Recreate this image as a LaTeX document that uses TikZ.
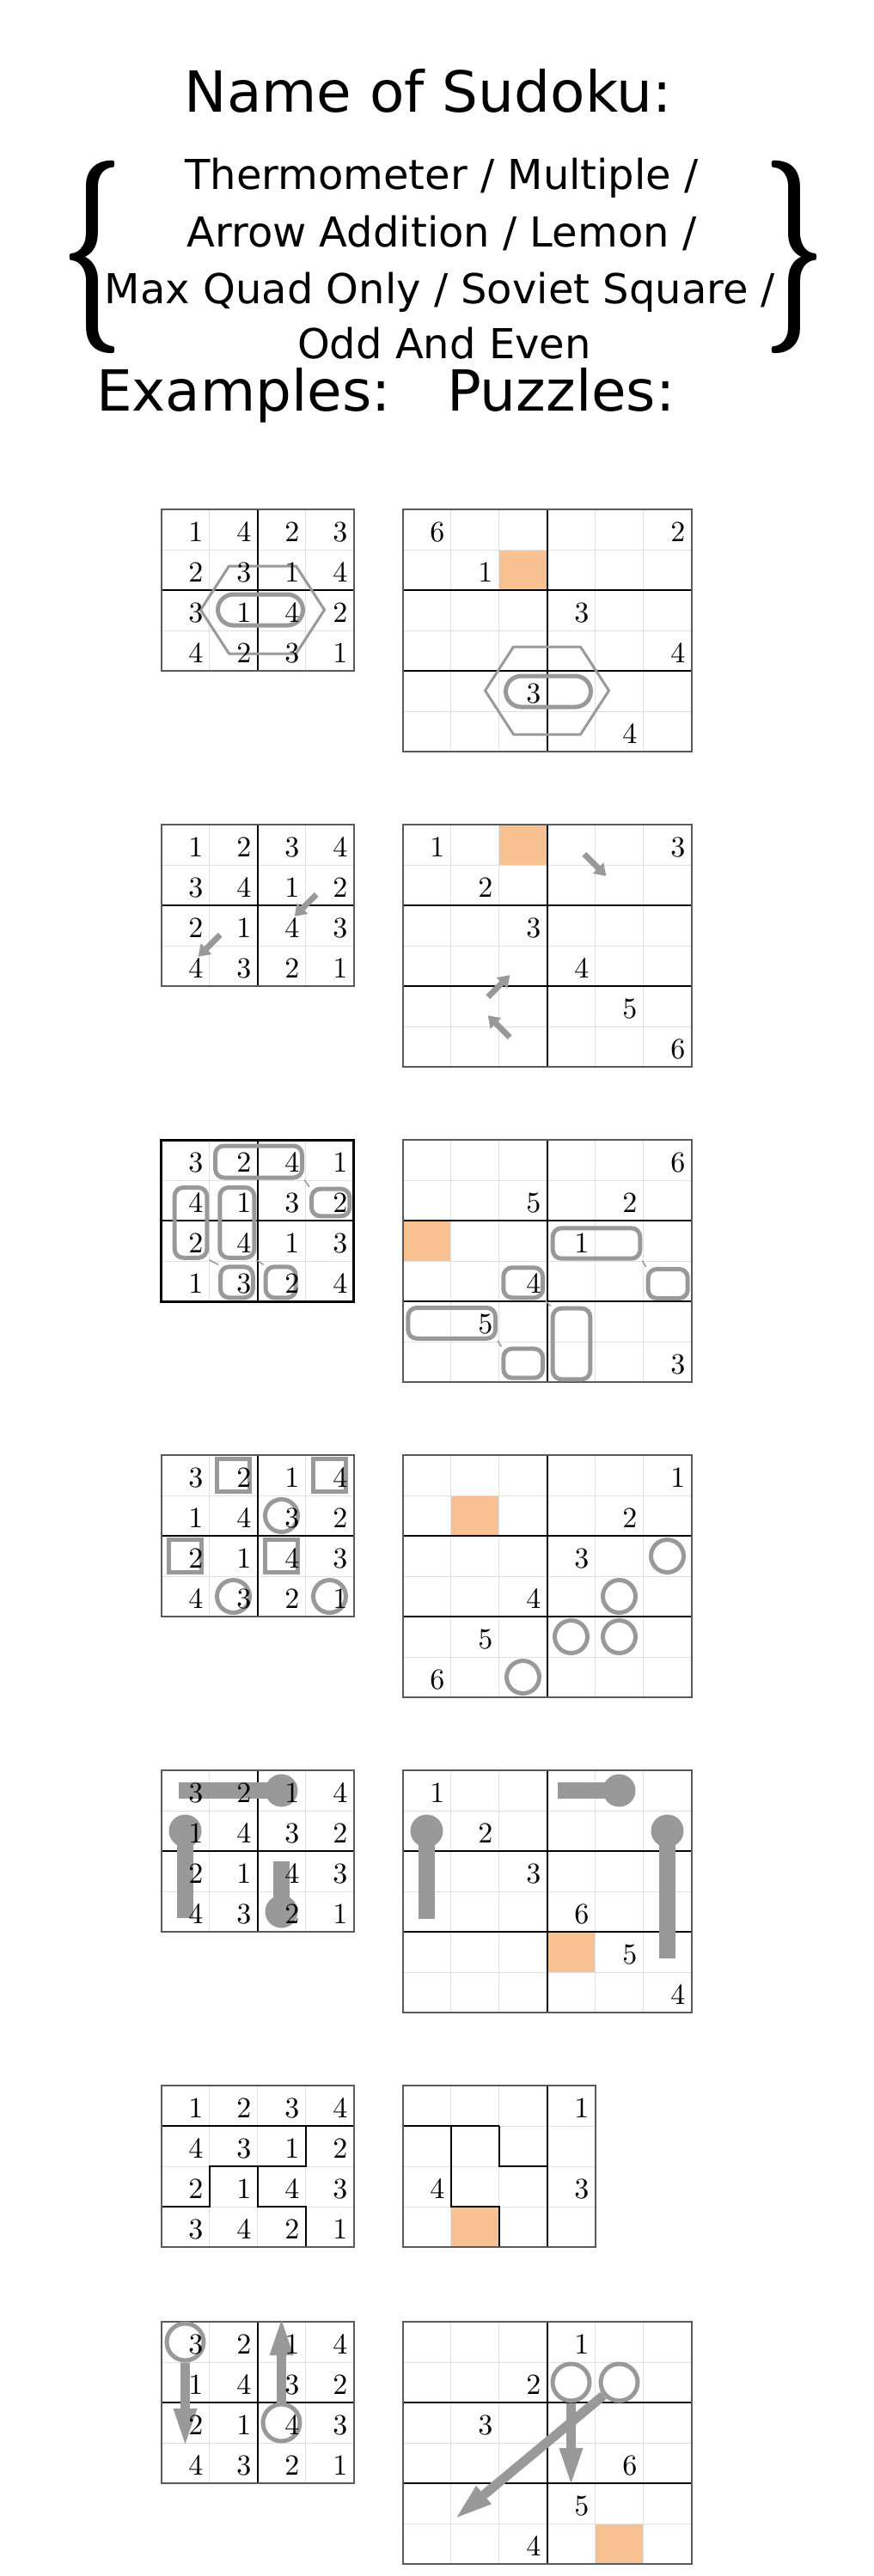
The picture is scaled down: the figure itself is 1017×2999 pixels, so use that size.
\documentclass[tikz,border=0pt]{standalone}
\usepackage{fontspec}
\newfontfamily\handschrift{DejaVu Sans}
\newfontfamily\zifferschrift{lmroman10-regular.otf}
\usepackage{graphicx}
\usepackage{tikz}
\usetikzlibrary{arrows.meta,positioning,calc}
\definecolor{orangefarbe}{RGB}{248,193,145}
\definecolor{grau}{RGB}{153,153,153}
\definecolor{linienhell}{RGB}{224,224,224}

% duenne Linien 4x4
\newcommand{\duennVier}{%
  \foreach \i in {1,2,3} {
    \draw[duenn] (\i*56,0) -- (\i*56,188);
    \draw[duenn] (0,\i*47) -- (224,\i*47);
  }}
% Gitter 4x4 mit 2x2-Bloecken
\newcommand{\gitterVier}[2]{%
  \begin{scope}[shift={(#1,#2)}]
    \duennVier
    \draw[kasten] (112,0) -- (112,188) (0,94) -- (224,94);
    \draw[rand] (0,0) rectangle (224,188);
  \end{scope}}
% Gitter 6x6 mit 3x2-Bloecken
\newcommand{\gitterSechs}[2]{%
  \begin{scope}[shift={(#1,#2)}]
    \foreach \i in {1,...,5} {
      \draw[duenn] (\i*56,0) -- (\i*56,282);
      \draw[duenn] (0,\i*47) -- (336,\i*47);
    }
    \draw[kasten] (168,0) -- (168,282) (0,94) -- (336,94) (0,188) -- (336,188);
    \draw[rand] (0,0) rectangle (336,282);
  \end{scope}}
% volle Loesung
\newcommand{\loesung}[4]{%
  \begin{scope}[shift={(#2,#3)}]
    \foreach \zeile [count=\zi] in {#4} {
      \foreach \zw [count=\si] in \zeile
        \node[ziffer] (#1-\zi-\si) at (\si*56-7,\zi*47-10) {\zw};
    }
  \end{scope}}
% Vorgaben Zeile/Spalte/Ziffer
\newcommand{\vorgabe}[4]{%
  \begin{scope}[shift={(#2,#3)}]
    \foreach \zi/\si/\zw in {#4}
      \node[ziffer] (#1-\zi-\si) at (\si*56-7,\zi*47-10) {\zw};
  \end{scope}}
% kleiner Pfeil an einer Ecke
\newcommand{\kleinpfeil}[4]{%
  \coordinate (#1-m) at (#2,#3);
  \coordinate (#1-a) at ($(#1-m)+(#4+180:18)$);
  \coordinate (#1-b) at ($(#1-m)+(#4:18)$);
  \draw[pfeilchen] (#1-a) -- (#1-b);}

\begin{document}
\begin{tikzpicture}[x=1pt,y=-1pt]

  \tikzset{%
    duenn/.style     = {draw=linienhell, line width=1pt},
    kasten/.style    = {draw=black, line width=2pt},
    rand/.style      = {draw=black!65, line width=2pt},
    ziffer/.style    = {anchor=base east, inner sep=0pt, font=\zifferschrift\fontsize{34}{34}\selectfont},
    markiert/.style  = {fill=orangefarbe},
    hexa/.style      = {draw=grau, line width=3pt},
    oval/.style      = {draw=grau, line width=5pt, rounded corners=18pt, minimum width=99pt,
                        minimum height=36pt, inner sep=0pt},
    domino/.style    = {draw=grau, line width=5pt, rounded corners=10pt, inner sep=0pt},
    verbindung/.style= {draw=grau, line width=1.5pt},
    quadrat/.style   = {draw=grau, line width=5pt, minimum size=38pt, inner sep=0pt},
    ring/.style      = {circle, draw=grau, line width=5pt, minimum size=38pt, inner sep=0pt},
    grossring/.style = {ring, minimum size=43pt},
    kugel/.style     = {circle, fill=grau, minimum size=38pt, inner sep=0pt},
    stab/.style      = {draw=grau, line width=19pt},
    pfeilchen/.style = {draw=grau, line width=7pt, -{Triangle[length=13pt,width=18pt,line width=0pt]}},
    pfeil/.style     = {draw=grau, line width=11pt, -{Triangle[length=41pt,width=28pt,line width=0pt]}},
    titel/.style     = {anchor=base, inner sep=0pt, font=\handschrift\fontsize{66}{66}\selectfont},
    zeile/.style     = {anchor=base, inner sep=0pt, font=\handschrift\fontsize{48}{48}\selectfont}
  }

  \useasboundingbox (0,0) rectangle (1017,2999);

  % Kopf
  \node[titel] (name) at (498,130) {Name of Sudoku:};
  \node[zeile] (zeileA) at (514,220) {Thermometer / Multiple /};
  \node[zeile] (zeileB) at (514,287) {Arrow Addition / Lemon /};
  \node[zeile] (zeileC) at (512,353) {Max Quad Only / Soviet Square /};
  \node[zeile] (zeileD) at (517,417) {Odd And Even};
  \node[inner sep=0pt] (klammerL) at (107,299) {\resizebox*{72pt}{224pt}{\bfseries\{}};
  \node[inner sep=0pt] (klammerR) at (924,299) {\resizebox*{72pt}{224pt}{\bfseries\}}};
  \node[titel, anchor=base west] (beispiele) at (112,478) {Examples:};
  \node[titel, anchor=base west] (raetsel) at (520,478) {Puzzles:};

  % Zeile 1
  \fill[markiert] (468.5+112,593+47) rectangle +(56,47);
  \gitterVier{187.5}{593}
  \gitterSechs{468.5}{593}
  \coordinate (h1) at (305.5,710);
  \draw[hexa] (h1) ++(-72,0) -- ++(33,-51) -- ++(78,0) -- ++(33,51) -- ++(-33,51) -- ++(-78,0) -- cycle;
  \node[oval] (o1) at (303,710) {};
  \coordinate (h2) at (636.5,804);
  \draw[hexa] (h2) ++(-72,0) -- ++(33,-51) -- ++(78,0) -- ++(33,51) -- ++(-33,51) -- ++(-78,0) -- cycle;
  \node[oval] (o2) at (638,805) {};
  \loesung{b1}{187.5}{593}{{1,4,2,3},{2,3,1,4},{3,1,4,2},{4,2,3,1}}
  \vorgabe{p1}{468.5}{593}{1/1/6,1/6/2,2/2/1,3/4/3,4/6/4,5/3/3,6/5/4}

  % Zeile 2
  \fill[markiert] (468.5+112,960) rectangle +(56,47);
  \gitterVier{187.5}{960}
  \gitterSechs{468.5}{960}
  \kleinpfeil{a1}{355.5}{1054}{135}
  \kleinpfeil{a2}{243.5}{1101}{135}
  \kleinpfeil{a3}{692.5}{1007}{45}
  \kleinpfeil{a4}{580.5}{1148}{-45}
  \kleinpfeil{a5}{580.5}{1195}{225}
  \loesung{b2}{187.5}{960}{{1,2,3,4},{3,4,1,2},{2,1,4,3},{4,3,2,1}}
  \vorgabe{p2}{468.5}{960}{1/1/1,1/6/3,2/2/2,3/3/3,4/4/4,5/5/5,6/6/6}

  % Zeile 3
  \fill[markiert] (468.5,1327+94) rectangle +(56,47);
  \gitterVier{187.5}{1327}
  \draw[line width=3pt] (187.5,1327) rectangle +(224,188);
  \gitterSechs{468.5}{1327}
  \node[domino, minimum width=101pt, minimum height=37pt] (d1) at (301,1352.5) {};
  \node[domino, minimum width=37.6pt, minimum height=81.7pt] (d2) at (222,1423.4) {};
  \node[domino, minimum width=40pt, minimum height=81.7pt] (d3) at (275.8,1423.4) {};
  \node[domino, minimum width=44.3pt, minimum height=31.6pt] (d4) at (384.7,1400) {};
  \node[domino, minimum width=37.7pt, minimum height=36pt] (d5) at (275.4,1492.8) {};
  \node[domino, minimum width=35pt, minimum height=36pt] (d6) at (326.7,1492.8) {};
  \draw[verbindung] (d1.south east) -- (d4.north west);
  \draw[verbindung] (d2.south east) -- (d5.north west);
  \draw[verbindung] (d3.south east) -- (d6.north west);
  \node[domino, minimum width=101.6pt, minimum height=35.4pt] (e1) at (694,1447.5) {};
  \node[domino, minimum width=46pt, minimum height=34pt] (e2) at (777.2,1494.5) {};
  \node[domino, minimum width=45.7pt, minimum height=35pt] (e3) at (608.7,1493.3) {};
  \node[domino, minimum width=101.7pt, minimum height=35.7pt] (e4) at (525.7,1540.4) {};
  \node[domino, minimum width=45.7pt, minimum height=34pt] (e5) at (608.7,1587.2) {};
  \node[domino, minimum width=43.6pt, minimum height=82.6pt] (e6) at (665,1564.5) {};
  \draw[verbindung] (e1.south east) -- (e2.north west);
  \draw[verbindung] (e3.south east) -- (e6.north west);
  \draw[verbindung] (e4.south east) -- (e5.north west);
  \loesung{b3}{187.5}{1327}{{3,2,4,1},{4,1,3,2},{2,4,1,3},{1,3,2,4}}
  \vorgabe{p3}{468.5}{1327}{1/6/6,2/3/5,2/5/2,3/4/1,4/3/4,5/2/5,6/6/3}

  % Zeile 4
  \fill[markiert] (468.5+56,1694+47) rectangle +(56,47);
  \gitterVier{187.5}{1694}
  \gitterSechs{468.5}{1694}
  \begin{scope}[shift={(187.5,1694)}]
    \foreach \zi/\si [count=\n] in {1/2,1/4,3/1,3/3}
      \node[quadrat] (q\n) at (\si*56-28,\zi*47-23.5) {};
    \foreach \zi/\si [count=\n] in {2/3,4/2,4/4}
      \node[ring] (k\n) at (\si*56-28,\zi*47-23.5) {};
  \end{scope}
  \begin{scope}[shift={(468.5,1694)}]
    \foreach \zi/\si [count=\n] in {3/6,4/5,5/4,5/5,6/3}
      \node[ring] (kp\n) at (\si*56-28,\zi*47-23.5) {};
  \end{scope}
  \loesung{b4}{187.5}{1694}{{3,2,1,4},{1,4,3,2},{2,1,4,3},{4,3,2,1}}
  \vorgabe{p4}{468.5}{1694}{1/6/1,2/5/2,3/4/3,4/3/4,5/2/5,6/1/6}

  % Zeile 5
  \fill[markiert] (468.5+168,2061+188) rectangle +(56,47);
  \gitterVier{187.5}{2061}
  \gitterSechs{468.5}{2061}
  \begin{scope}[shift={(187.5,2061)}]
    \node[kugel] (t1) at (140,23.5) {};
    \coordinate (t1e) at (20,23.5);
    \node[kugel] (t2) at (28,70.5) {};
    \coordinate (t2e) at (28,172);
    \node[kugel] (t3) at (140,164.5) {};
    \coordinate (t3e) at (140,106);
  \end{scope}
  \begin{scope}[shift={(468.5,2061)}]
    \node[kugel] (u1) at (252,23.5) {};
    \coordinate (u1e) at (180,23.5);
    \node[kugel] (u2) at (28,70.5) {};
    \coordinate (u2e) at (28,173);
    \node[kugel] (u3) at (308,70.5) {};
    \coordinate (u3e) at (308,219);
  \end{scope}
  \foreach \t in {t1,t2,t3,u1,u2,u3}
    \draw[stab] (\t.center) -- (\t e);
  \loesung{b5}{187.5}{2061}{{3,2,1,4},{1,4,3,2},{2,1,4,3},{4,3,2,1}}
  \vorgabe{p5}{468.5}{2061}{1/1/1,2/2/2,3/3/3,4/4/6,5/5/5,6/6/4}

  % Zeile 6 (Soviet Square)
  \fill[markiert] (468.5+56,2428+141) rectangle +(56,47);
  \begin{scope}[shift={(187.5,2428)}]
    \duennVier
    \draw[kasten] (0,47) -- (224,47) (168,47) -- (168,94) -- (56,94) -- (56,141) -- (0,141)
                  (112,94) -- (112,141) -- (168,141) -- (168,188);
    \draw[rand] (0,0) rectangle (224,188);
  \end{scope}
  \begin{scope}[shift={(468.5,2428)}]
    \duennVier
    \draw[kasten] (0,47) -- (112,47) (168,0) -- (168,188) (56,47) -- (56,141) -- (112,141) -- (112,188)
                  (112,47) -- (112,94) -- (168,94);
    \draw[rand] (0,0) rectangle (224,188);
  \end{scope}
  \loesung{b6}{187.5}{2428}{{1,2,3,4},{4,3,1,2},{2,1,4,3},{3,4,2,1}}
  \vorgabe{p6}{468.5}{2428}{1/4/1,3/1/4,3/4/3}

  % Zeile 7
  \fill[markiert] (468.5+224,2703+235) rectangle +(56,47);
  \gitterVier{187.5}{2703}
  \gitterSechs{468.5}{2703}
  \node[grossring] (r1) at (215.5,2726.5) {};
  \coordinate (r1e) at (215.5,2845);
  \node[grossring] (r2) at (327.5,2820.5) {};
  \coordinate (r2e) at (327.5,2701);
  \node[grossring] (r3) at (664.5,2773.5) {};
  \coordinate (r3e) at (664.5,2891);
  \node[grossring] (r4) at (720.5,2773.5) {};
  \coordinate (r4e) at (531.5,2930.7);
  % Pfeile
  \draw[pfeil] (r1) -- (r1e);
  \draw[pfeil] (r2) -- (r2e);
  \draw[pfeil] (r3) -- (r3e);
  \draw[pfeil] (r4) -- (r4e);
  \loesung{b7}{187.5}{2703}{{3,2,1,4},{1,4,3,2},{2,1,4,3},{4,3,2,1}}
  \vorgabe{p7}{468.5}{2703}{1/4/1,2/3/2,3/2/3,4/5/6,5/4/5,6/3/4}

\end{tikzpicture}
\end{document}
